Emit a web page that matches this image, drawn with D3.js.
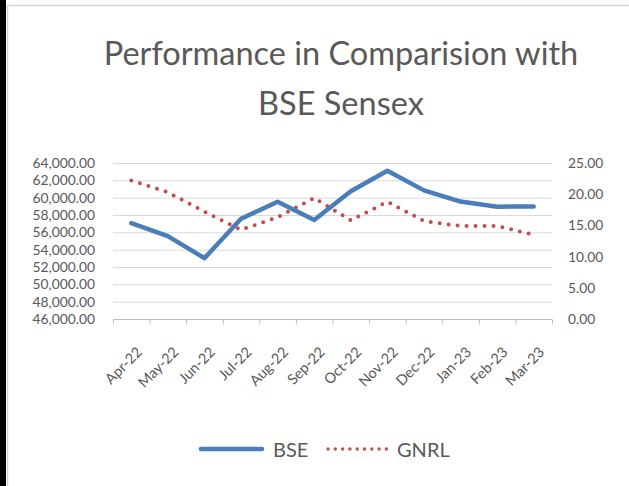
<!doctype html>
<html>
<head>
<meta charset="utf-8">
<style>
  body { margin: 0; background: #fff; }
  svg { display: block; }
  text { font-family: Lato, "Open Sans", sans-serif; fill: #595959; }
</style>
</head>
<body>
<svg width="629" height="486"></svg>
<script src="https://cdn.jsdelivr.net/npm/d3@7"></script>
<script>
var months = ["Apr-22", "May-22", "Jun-22", "Jul-22", "Aug-22", "Sep-22",
              "Oct-22", "Nov-22", "Dec-22", "Jan-23", "Feb-23", "Mar-23"];
var bse = [57060, 55566, 53018, 57570, 59537, 57427, 60747, 63100, 60841, 59550, 58962, 58992];
var gnrl = [22.2, 20.3, 17.2, 14.3, 16.3, 19.4, 15.8, 18.8, 15.7, 14.9, 14.9, 13.5];
var leftTicks = [46000, 48000, 50000, 52000, 54000, 56000, 58000, 60000, 62000, 64000];
var rightTicks = [0, 5, 10, 15, 20, 25];

var svg = d3.select("svg");

// frame
svg.append("rect").attr("x", 0).attr("y", 0).attr("width", 6).attr("height", 486).attr("fill", "#000");
svg.append("line").attr("x1", 7).attr("x2", 629).attr("y1", 5.5).attr("y2", 5.5)
  .attr("stroke", "#d4d4d4").attr("stroke-width", 1.5);
svg.append("line").attr("x1", 7.5).attr("x2", 7.5).attr("y1", 5).attr("y2", 486)
  .attr("stroke", "#d4d4d4").attr("stroke-width", 1.5);

// title
svg.append("text").attr("x", 341).attr("y", 65).attr("text-anchor", "middle")
  .style("font-size", "32.5px").text("Performance in Comparision with");
svg.append("text").attr("x", 341).attr("y", 115).attr("text-anchor", "middle")
  .style("font-size", "32.5px").text("BSE Sensex");

var plotL = 113, plotR = 552, plotT = 163, plotB = 319;

var x = d3.scaleBand().domain(months).range([plotL, plotR]);
var yL = d3.scaleLinear().domain([46000, 64000]).range([plotB, plotT]);
var yR = d3.scaleLinear().domain([0, 25]).range([plotB, plotT]);

// gridlines
svg.append("g").selectAll("line").data(leftTicks.slice(1)).join("line")
  .attr("x1", plotL).attr("x2", plotR)
  .attr("y1", function(d) { return yL(d) + 0.5; })
  .attr("y2", function(d) { return yL(d) + 0.5; })
  .attr("stroke", "#d9d9d9").attr("stroke-width", 1);

// left axis
var fmtL = d3.format(",.2f");
svg.append("g").attr("transform", "translate(" + (plotL - 18) + ",0)")
  .call(d3.axisLeft(yL).tickValues(leftTicks).tickFormat(fmtL).tickSize(0).tickPadding(0))
  .call(function(g) { g.select(".domain").remove(); })
  .selectAll("text").style("font-size", "13.8px").style("font-family", "Lato, sans-serif").attr("fill", "#595959");

// right axis
svg.append("g").attr("transform", "translate(" + (plotR + 16) + ",0)")
  .call(d3.axisRight(yR).tickValues(rightTicks).tickFormat(d3.format(".2f")).tickSize(0).tickPadding(0))
  .call(function(g) { g.select(".domain").remove(); })
  .selectAll("text").style("font-size", "13.8px").style("font-family", "Lato, sans-serif").attr("fill", "#595959");

// bottom axis
var xAxis = svg.append("g").attr("transform", "translate(0," + (plotB + 0.5) + ")");
xAxis.append("line").attr("x1", plotL).attr("x2", plotR).attr("stroke", "#bfbfbf");
xAxis.selectAll(".tk").data(months.concat(["end"])).join("line")
  .attr("class", "tk")
  .attr("x1", function(d, i) { return i < months.length ? x(d) + 0.5 : plotR + 0.5; })
  .attr("x2", function(d, i) { return i < months.length ? x(d) + 0.5 : plotR + 0.5; })
  .attr("y1", 0).attr("y2", 5).attr("stroke", "#bfbfbf");
xAxis.selectAll(".lbl").data(months).join("text")
  .attr("class", "lbl")
  .attr("text-anchor", "end")
  .attr("dy", "0.35em")
  .attr("transform", function(d) {
    return "translate(" + (x(d) + x.bandwidth() / 2 + 8) + ",30) rotate(-45)";
  })
  .style("font-size", "14.5px")
  .text(function(d) { return d; });

var cx = function(d, i) { return x(months[i]) + x.bandwidth() / 2; };

// GNRL dotted line
svg.append("path").datum(gnrl)
  .attr("fill", "none").attr("stroke", "#c0504d")
  .attr("stroke-width", 4).attr("stroke-linecap", "round")
  .attr("stroke-dasharray", "0,9")
  .attr("d", d3.line().x(cx).y(function(d) { return yR(d); }));

// BSE line
svg.append("path").datum(bse)
  .attr("fill", "none").attr("stroke", "#4a7ebb")
  .attr("stroke-width", 4.5).attr("stroke-linejoin", "round").attr("stroke-linecap", "round")
  .attr("d", d3.line().x(cx).y(function(d) { return yL(d); }));

// legend
var lg = svg.append("g");
lg.append("line").attr("x1", 201).attr("x2", 262).attr("y1", 449).attr("y2", 449)
  .attr("stroke", "#4a7ebb").attr("stroke-width", 4.5).attr("stroke-linecap", "round");
lg.append("text").attr("x", 273).attr("y", 456.5).style("font-size", "20px").text("BSE");
lg.append("line").attr("x1", 328).attr("x2", 387).attr("y1", 449).attr("y2", 449)
  .attr("stroke", "#c0504d").attr("stroke-width", 3.5).attr("stroke-linecap", "round")
  .attr("stroke-dasharray", "0,7.3");
lg.append("text").attr("x", 397).attr("y", 456.5).style("font-size", "20px").text("GNRL");
</script>
</body>
</html>
